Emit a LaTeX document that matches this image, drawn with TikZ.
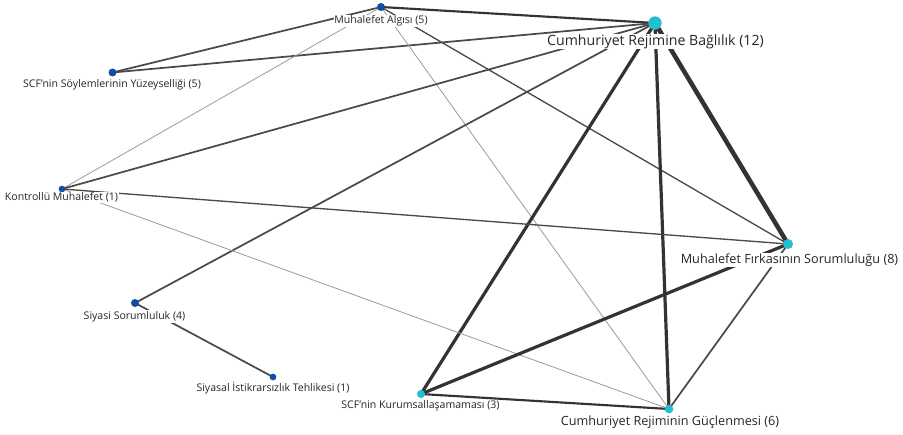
\documentclass[tikz,border=0pt]{standalone}
\usepackage{fontspec}
\setmainfont{Open Sans}
\definecolor{dotblue}{HTML}{0D4FA3}
\definecolor{dotcyan}{HTML}{22BFD0}
\definecolor{edgedark}{HTML}{333333}
\definecolor{edgemid}{HTML}{4A4A4A}
\definecolor{edgelight}{HTML}{9A9A9A}
\begin{document}
\begin{tikzpicture}[x=0.75pt,y=-0.75pt,
  dot/.style={circle,inner sep=0pt},
  lbl/.style={fill=white,inner sep=0.6pt,text=black!85},
  small/.style={lbl,font=\fontsize{7.9}{9}\selectfont},
  medium/.style={lbl,font=\fontsize{9.5}{11}\selectfont},
  large/.style={lbl,font=\fontsize{10.6}{12}\selectfont},
  e1/.style={edgelight,line width=0.6pt},
  e2/.style={edgemid,line width=1.0pt},
  e3/.style={edgemid,line width=1.3pt},
  e4/.style={edgedark,line width=1.6pt},
  e5/.style={edgedark,line width=2.4pt},
  e6/.style={edgedark,line width=3.4pt},
]
\useasboundingbox (0,0) rectangle (903,435);
% node positions (dots)
\node[dot] (ma) at (381,7) {};
\node[dot] (crb) at (655,23) {};
\node[dot] (scfs) at (112.5,72.5) {};
\node[dot] (km) at (62,189) {};
\node[dot] (mfs) at (788,244) {};
\node[dot] (ss) at (135,303) {};
\node[dot] (sit) at (273,377) {};
\node[dot] (scfk) at (421,394) {};
\node[dot] (crg) at (669,409) {};
% edges
\draw[e4] (ma.center) -- (crb.center);
\draw[e3] (scfs.center) -- (ma.center);
\draw[e3] (scfs.center) -- (crb.center);
\draw[e1] (ma.center) -- (km.center);
\draw[e1] (ma.center) -- (crg.center);
\draw[e2] (ma.center) -- (mfs.center);
\draw[e3] (crb.center) -- (km.center);
\draw[e3] (crb.center) -- (ss.center);
\draw[e5] (crb.center) -- (scfk.center);
\draw[e5] (crb.center) -- (crg.center);
\draw[e6] (crb.center) -- (mfs.center);
\draw[e2] (km.center) -- (mfs.center);
\draw[e1] (km.center) -- (crg.center);
\draw[e3] (ss.center) -- (sit.center);
\draw[e5] (mfs.center) -- (scfk.center);
\draw[e3] (mfs.center) -- (crg.center);
\draw[e4] (scfk.center) -- (crg.center);
% dots on top
\foreach \n/\s/\c in {ma/6pt/dotblue,scfs/6pt/dotblue,km/5pt/dotblue,ss/6pt/dotblue,sit/5pt/dotblue,crb/10pt/dotcyan,mfs/7.5pt/dotcyan,scfk/6pt/dotcyan,crg/6.5pt/dotcyan}
  \fill[\c] (\n.center) circle[radius=\s/2];
% labels
\node[small] (mal) at (381,21) {Muhalefet Algısı (5)};
\node[large] (crbl) at (655.5,41.5) {Cumhuriyet Rejimine Bağlılık (12)};
\node[small] (scfsl) at (112,85) {SCF'nin Söylemlerinin Yüzeyselliği (5)};
\node[small] (kml) at (61.5,197.5) {Kontrollü Muhalefet (1)};
\node[medium] (mfsl) at (789.5,260) {Muhalefet Fırkasının Sorumluluğu (8)};
\node[small] (ssl) at (134.5,316.5) {Siyasi Sorumluluk (4)};
\node[small] (sitl) at (273,388.5) {Siyasal İstikrarsızlık Tehlikesi (1)};
\node[small] (scfkl) at (420.5,406) {SCF'nin Kurumsallaşamaması (3)};
\node[medium] (crgl) at (670,422) {Cumhuriyet Rejiminin Güçlenmesi (6)};
\end{tikzpicture}
\end{document}
